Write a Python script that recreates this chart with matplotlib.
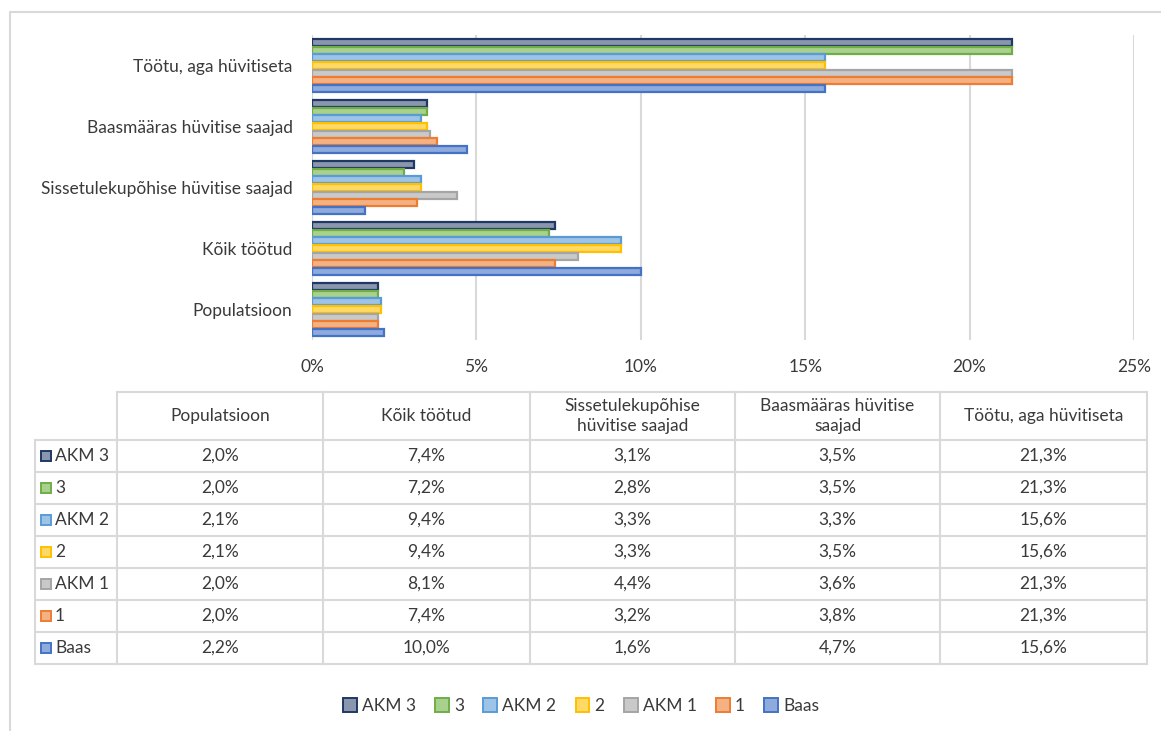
import numpy as np
import matplotlib.pyplot as plt
from matplotlib.patches import Patch, Rectangle

plt.rcParams['font.family'] = ['Lato', 'DejaVu Sans']

# Data
categories = ['Populatsioon', 'Kõik töötud', 'Sissetulekupõhise hüvitise saajad',
              'Baasmääras hüvitise saajad', 'Töötu, aga hüvitiseta']
header_labels = ['Populatsioon', 'Kõik töötud', 'Sissetulekupõhise\nhüvitise saajad',
                 'Baasmääras hüvitise\nsaajad', 'Töötu, aga hüvitiseta']
series_names = ['AKM 3', '3', 'AKM 2', '2', 'AKM 1', '1', 'Baas']
akm3 = [2.0, 7.4, 3.1, 3.5, 21.3]
s3 = [2.0, 7.2, 2.8, 3.5, 21.3]
akm2 = [2.1, 9.4, 3.3, 3.3, 15.6]
s2 = [2.1, 9.4, 3.3, 3.5, 15.6]
akm1 = [2.0, 8.1, 4.4, 3.6, 21.3]
s1 = [2.0, 7.4, 3.2, 3.8, 21.3]
baas = [2.2, 10.0, 1.6, 4.7, 15.6]
series_values = [akm3, s3, akm2, s2, akm1, s1, baas]
x_ticks = [0, 5, 10, 15, 20, 25]

edge_colors = ['#203864', '#70ad47', '#5b9bd5', '#ffc000', '#a5a5a5', '#ed7d31', '#4472c4']
fill_colors = ['#8a96ae', '#a9d18e', '#9dc3e6', '#ffd966', '#c9c9c9', '#f4b183', '#8faadc']
text_color = '#3a3a3a'
grid_color = '#d9d9d9'
fs = 12.5

W, H = 1161, 731
fig = plt.figure(figsize=(W / 100, H / 100), dpi=100)
fig.patch.set_facecolor('white')

# Bar chart
ax = fig.add_axes([312 / W, 1 - 340 / H, (1134 - 312) / W, (340 - 35) / H])
y = np.arange(len(categories))
n = len(series_names)
bh = 0.88 / n
for i, (name, vals) in enumerate(zip(series_names, series_values)):
    offset = (n - 1) / 2 * bh - i * bh
    ax.barh(y + offset, vals, height=bh * 0.92, color=fill_colors[i],
            edgecolor=edge_colors[i], linewidth=1.6, label=name, zorder=3)

ax.set_xlim(0, 25)
ax.set_ylim(-0.5, len(categories) - 0.5)
ax.set_xticks(x_ticks)
ax.set_xticklabels([f'{t}%' for t in x_ticks], fontsize=fs, color=text_color)
ax.set_yticks(y)
ax.set_yticklabels(categories, fontsize=fs, color=text_color)
ax.tick_params(length=0, pad=14)
ax.tick_params(axis='x', pad=14)
ax.xaxis.grid(True, color=grid_color, linewidth=1.5, zorder=0)
for s in ax.spines.values():
    s.set_visible(False)
ax.axvline(0, color=grid_color, linewidth=1.5, zorder=1)

# Data table (pixel coordinates overlay)
tab = fig.add_axes([0, 0, 1, 1], facecolor='none')
tab.set_xlim(0, W)
tab.set_ylim(H, 0)
tab.axis('off')

# outer chart border
tab.plot([10, 10, W + 5], [H + 5, 12, 12], color=grid_color, linewidth=1.5)

col_edges = [117, 323, 530, 735, 940, 1147]
left = 35
head_top, head_bot = 392, 440
row_h = 32
rows_bot = head_bot + row_h * n
lw = 1.5
tab.plot([col_edges[0], col_edges[-1]], [head_top, head_top], color=grid_color, lw=lw)
for xe in col_edges:
    tab.plot([xe, xe], [head_top, rows_bot], color=grid_color, lw=lw)
tab.plot([left, left], [head_bot, rows_bot], color=grid_color, lw=lw)
for r in range(n + 1):
    yy = head_bot + r * row_h
    tab.plot([left, col_edges[-1]], [yy, yy], color=grid_color, lw=lw)

for j, lab in enumerate(header_labels):
    xc = (col_edges[j] + col_edges[j + 1]) / 2
    tab.text(xc, (head_top + head_bot) / 2, lab, ha='center', va='center',
             fontsize=fs, color=text_color, linespacing=1.3)

for i, (name, vals) in enumerate(zip(series_names, series_values)):
    yc = head_bot + (i + 0.5) * row_h
    tab.add_patch(Rectangle((41, yc - 5), 10, 10, facecolor=fill_colors[i],
                            edgecolor=edge_colors[i], linewidth=1.4))
    tab.text(55, yc, name, ha='left', va='center', fontsize=fs, color=text_color)
    for j, v in enumerate(vals):
        xc = (col_edges[j] + col_edges[j + 1]) / 2
        tab.text(xc, yc, f'{v:.1f}%'.replace('.', ','), ha='center', va='center',
                 fontsize=fs, color=text_color)

# Legend
handles = [Patch(facecolor=fill_colors[i], edgecolor=edge_colors[i], linewidth=1.4,
                 label=series_names[i]) for i in range(n)]
fig.legend(handles=handles, loc='center', bbox_to_anchor=(581 / W, 1 - 706 / H),
           ncol=n, frameon=False, fontsize=fs, handlelength=0.8, handleheight=0.8,
           handletextpad=0.3, columnspacing=1.1, labelcolor=text_color)

plt.savefig('out.png', dpi=100)
